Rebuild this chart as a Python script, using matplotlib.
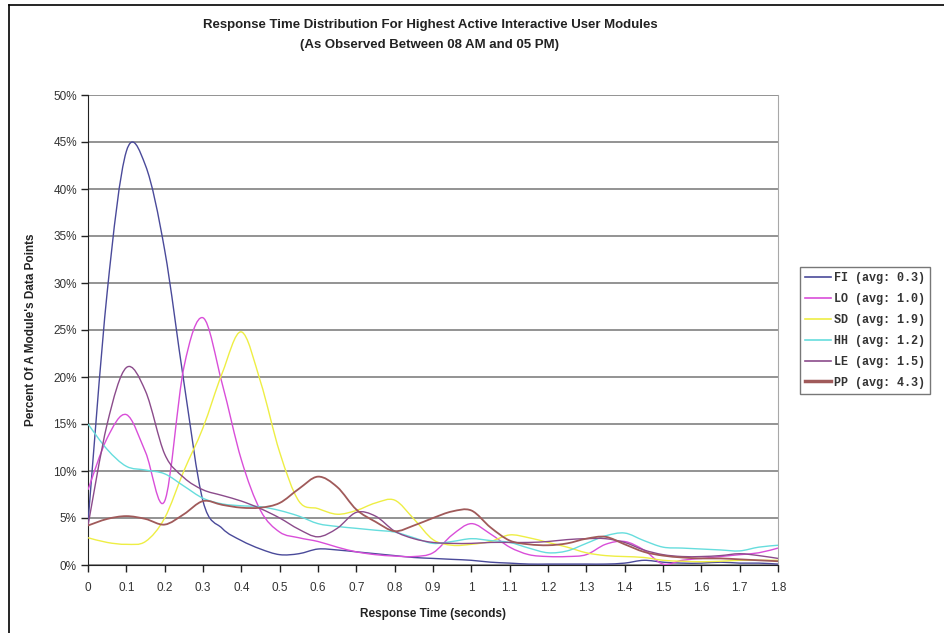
import numpy as np
import matplotlib
matplotlib.use("Agg")
import matplotlib.pyplot as plt
from matplotlib.path import Path
from matplotlib.patches import PathPatch
from matplotlib.lines import Line2D

# Response time buckets (seconds)
resp_time = [round(0.05 * i, 2) for i in range(37)]

# Percent of each module's data points per bucket
fi = [4.5, 29.0, 44.0, 42.5, 33.5, 19.5, 6.8, 3.9, 2.6, 1.7, 1.1, 1.2, 1.7, 1.6, 1.4,
      1.2, 1.0, 0.8, 0.7, 0.6, 0.5, 0.3, 0.2, 0.1, 0.1, 0.1, 0.1, 0.1, 0.2, 0.5, 0.3,
      0.2, 0.2, 0.3, 0.2, 0.2, 0.1]
lo = [8.0, 13.5, 16.0, 12.0, 6.8, 21.0, 26.3, 19.3, 11.2, 5.8, 3.5, 2.9, 2.5, 1.9, 1.4,
      1.1, 0.95, 0.9, 1.3, 3.2, 4.4, 3.3, 1.9, 1.1, 0.9, 0.9, 1.1, 2.2, 2.5, 1.6, 0.1,
      0.5, 0.7, 0.9, 1.1, 1.3, 1.8]
sd = [2.9, 2.4, 2.2, 2.5, 5.0, 10.0, 14.6, 20.4, 24.8, 19.5, 12.0, 6.8, 6.0, 5.4, 5.8,
      6.6, 6.9, 4.9, 2.7, 2.1, 2.2, 2.5, 3.2, 2.9, 2.4, 1.9, 1.3, 1.0, 0.9, 0.8, 0.5,
      0.4, 0.35, 0.4, 0.5, 0.5, 0.5]
hh = [15.0, 12.3, 10.5, 10.1, 9.7, 8.4, 7.1, 6.5, 6.3, 6.2, 5.8, 5.2, 4.4, 4.1, 3.9,
      3.7, 3.5, 2.9, 2.3, 2.5, 2.8, 2.6, 2.4, 1.8, 1.3, 1.5, 2.3, 3.1, 3.4, 2.6, 1.9,
      1.8, 1.7, 1.6, 1.5, 1.9, 2.1]
le = [4.2, 15.0, 21.0, 18.5, 11.8, 9.3, 8.0, 7.4, 6.8, 6.0, 5.0, 3.8, 3.0, 3.9, 5.6,
      5.2, 3.6, 2.8, 2.4, 2.3, 2.3, 2.4, 2.4, 2.4, 2.5, 2.7, 2.8, 2.8, 2.4, 1.6, 1.1,
      0.9, 0.9, 1.0, 1.2, 1.0, 0.7]
pp = [4.2, 4.9, 5.2, 4.9, 4.3, 5.4, 6.8, 6.4, 6.1, 6.1, 6.6, 8.1, 9.4, 8.3, 5.9,
      4.6, 3.6, 4.2, 5.0, 5.7, 5.8, 4.0, 2.6, 2.2, 2.1, 2.3, 2.8, 3.0, 2.2, 1.4, 1.0,
      0.8, 0.7, 0.7, 0.6, 0.5, 0.4]

modules = ["FI", "LO", "SD", "HH", "LE", "PP"]
averages = ["0.3", "1.0", "1.9", "1.2", "1.5", "4.3"]
series = [fi, lo, sd, hh, le, pp]
colors = ["#4a4a9a", "#d94ed9", "#eeee44", "#66dddd", "#8b4b8b", "#a05a5a"]
widths = [1.0, 1.0, 1.0, 1.0, 1.0, 1.3]

y_ticks = list(range(0, 55, 5))
x_ticks = [round(0.1 * i, 1) for i in range(19)]
x_tick_labels = ["0", "0.1", "0.2", "0.3", "0.4", "0.5", "0.6", "0.7", "0.8", "0.9",
                 "1", "1.1", "1.2", "1.3", "1.4", "1.5", "1.6", "1.7", "1.8"]


def smooth_path(xs, ys):
    """Catmull-Rom curve through the points, as cubic Bezier segments."""
    pts = np.column_stack([xs, ys]).astype(float)
    ext = np.vstack([pts[0], pts, pts[-1]])
    verts = [pts[0]]
    codes = [Path.MOVETO]
    for i in range(len(pts) - 1):
        p0, p1, p2, p3 = ext[i], ext[i + 1], ext[i + 2], ext[i + 3]
        c1 = p1 + (p2 - p0) / 6.0
        c2 = p2 - (p3 - p1) / 6.0
        verts += [c1, c2, p2]
        codes += [Path.CURVE4] * 3
    return Path(verts, codes)


plt.rcParams["font.family"] = ["Liberation Sans", "DejaVu Sans"]

fig = plt.figure(figsize=(9.45, 6.33), dpi=100)
ax = fig.add_axes([88 / 945, 1 - 565 / 633, 690 / 945, 470 / 633])

ax.set_xlim(0, 1.8)
ax.set_ylim(0, 50)

ax.set_yticks(y_ticks)
ax.set_yticklabels([f"{v}%" for v in y_ticks])
ax.set_xticks(x_ticks)
ax.set_xticklabels(x_tick_labels)
ax.tick_params(axis="both", direction="out", length=5, width=1, color="#222222",
               labelsize=8.5, labelcolor="#333333")
ax.tick_params(axis="y", pad=3)
ax.tick_params(axis="x", pad=7)

ax.grid(axis="y", color="#8a8a8a", linewidth=1.3)
ax.set_axisbelow(True)
ax.spines["top"].set_visible(False)
ax.spines["right"].set_color("#a8a8a8")
ax.spines["left"].set_color("#222222")
ax.spines["bottom"].set_color("#222222")

handles = []
for name, avg, ys, col, lw in zip(modules, averages, series, colors, widths):
    patch = PathPatch(smooth_path(resp_time, ys), fill=False, edgecolor=col,
                      linewidth=lw, zorder=3)
    ax.add_patch(patch)
    handles.append(Line2D([], [], color=col, linewidth=(2.5 if name == "PP" else 1.2),
                          label=f"{name} (avg: {avg})"))

ax.set_xlabel("Response Time (seconds)", fontsize=8.5, fontweight="bold",
              color="#222222", labelpad=10)
ax.set_ylabel("Percent Of A Module's Data Points", fontsize=8.5, fontweight="bold",
              color="#222222", labelpad=12)

fig.text(430 / 945, 1 - 25 / 633,
         "Response Time Distribution For Highest Active Interactive User Modules",
         ha="center", va="center", fontsize=9.5, fontweight="bold", color="#222222")
fig.text(430 / 945, 1 - 45 / 633, "(As Observed Between 08 AM and 05 PM)",
         ha="center", va="center", fontsize=9.5, fontweight="bold", color="#222222")

leg = fig.legend(handles=handles, loc="upper left",
                 bbox_to_anchor=(800 / 945, 1 - 267 / 633),
                 prop={"family": "Liberation Mono", "weight": "bold", "size": 8.5},
                 frameon=True, fancybox=False, edgecolor="#555555",
                 handlelength=2.2, handletextpad=0.2, labelspacing=0.75,
                 borderpad=0.45, borderaxespad=0)
leg.get_frame().set_linewidth(1.0)
for t in leg.get_texts():
    t.set_color("#333333")

# Frame lines along the top and left edges of the image
fig.add_artist(Line2D([9 / 945, 1], [1 - 5 / 633, 1 - 5 / 633], color="black",
                      linewidth=1.2, transform=fig.transFigure))
fig.add_artist(Line2D([9 / 945, 9 / 945], [0, 1 - 5 / 633], color="black",
                      linewidth=1.2, transform=fig.transFigure))

fig.savefig("out.png", dpi=100, facecolor="white")
